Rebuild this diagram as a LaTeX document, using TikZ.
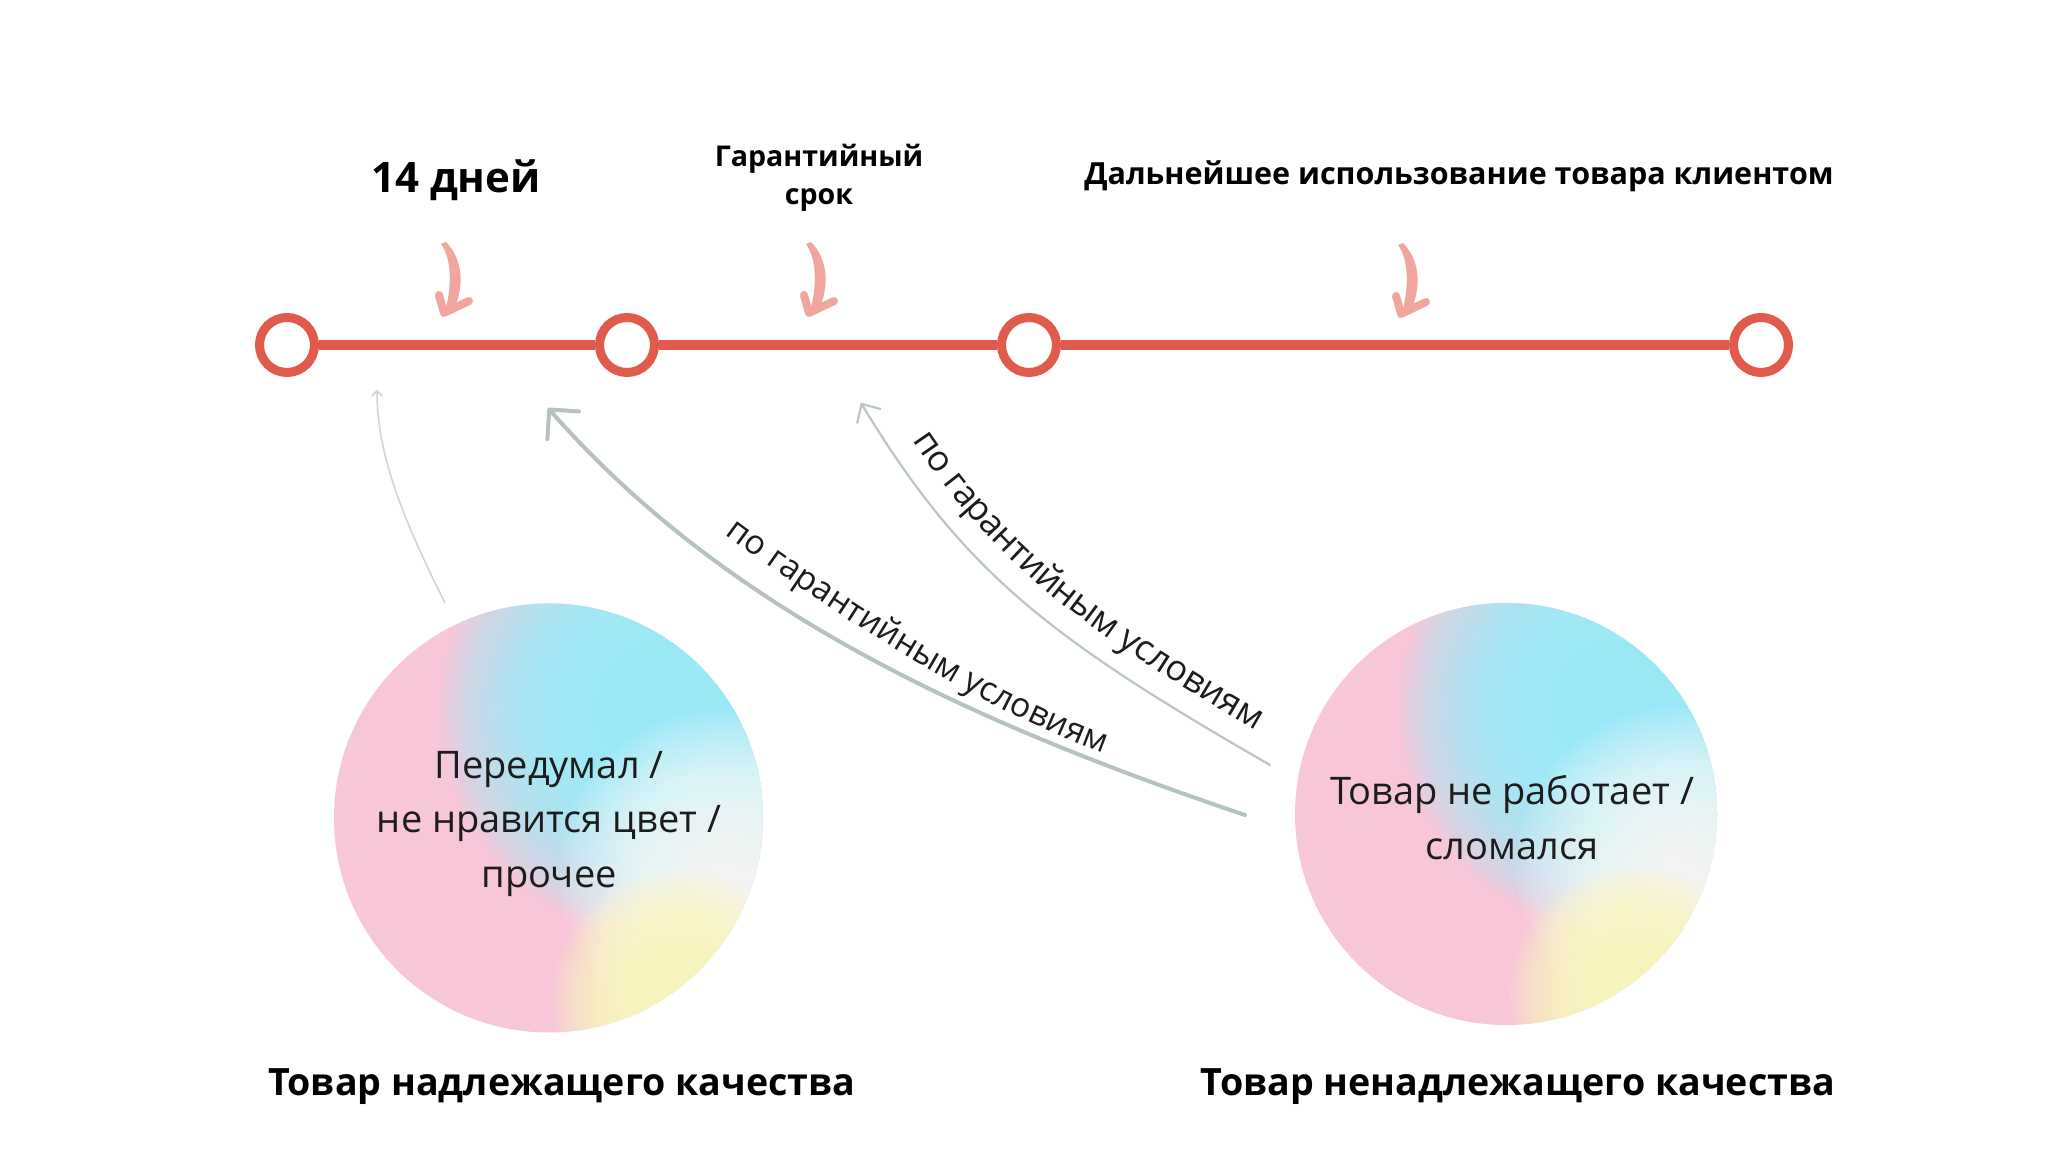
\documentclass[tikz,border=0pt]{standalone}
\usepackage{fontspec}
\setmainfont{Open Sans}
\usetikzlibrary{arrows.meta,decorations.text}
\definecolor{tlred}{HTML}{E05B4B}
\definecolor{pinkarr}{HTML}{F0A69E}
\definecolor{grayarr}{HTML}{B5C2C0}
\definecolor{grayarrmid}{HTML}{BAC6C4}
\definecolor{grayarrlight}{HTML}{CCD5D4}
\definecolor{cpink}{HTML}{F7C6D8}
\definecolor{ccyan}{HTML}{98F0FE}
\definecolor{cwhite}{HTML}{FFFFFF}
\definecolor{cyellow}{HTML}{FFFBBE}
\definecolor{txt}{HTML}{1C1C1C}
% soft blob: many concentric translucent discs
\newcommand\softblob[5]{%
  \foreach \k in {1,...,30}{\fill[#4, fill opacity=#5] (#1,#2) circle ({#3*\k/30});}}
\newcommand\gradcircle[3]{%
  \begin{scope}
    \clip (#1,#2) circle (#3);
    \fill[cpink] (#1,#2) circle (#3);
    \softblob{#1+0.55*#3}{#2+0.50*#3}{1.05*#3}{ccyan}{0.12}
    \softblob{#1+0.80*#3}{#2-0.25*#3}{0.75*#3}{cwhite}{0.08}
    \softblob{#1+0.62*#3}{#2-0.85*#3}{0.6*#3}{cyellow}{0.12}
  \end{scope}}
\newcommand\arrowfntb{\fontsize{33.6}{40}\selectfont}
\newcommand\arrowfntc{\fontsize{35.6}{40}\selectfont}
\tikzset{
  ring/.style={circle, draw=tlred, line width=9pt, fill=white, minimum size=55pt, inner sep=0pt},
  tline/.style={draw=tlred, line width=9.5pt},
  toplbl/.style={font=\bfseries\fontsize{28.6}{34}\selectfont, anchor=base, text=black, inner sep=0pt},
  botlbl/.style={font=\bfseries\fontsize{37.6}{44}\selectfont, anchor=base, text=black, inner sep=0pt},
  circtxt/.style={font=\fontsize{38}{46}\selectfont, anchor=base, text=txt, inner sep=0pt},
  bigcirc/.style={circle, inner sep=0pt},
  thinarr/.style={draw=grayarrlight, line width=1.5pt, -{Straight Barb[length=5pt,width=10pt,round]}},
  thickarr/.style={draw=grayarr, line width=4pt, line cap=round, -{Straight Barb[length=21pt,width=42pt,round]}},
  midarr/.style={draw=grayarrmid, line width=2.2pt, line cap=round, -{Straight Barb[length=14pt,width=27pt,round]}},
  pathtext/.style={decorate, decoration={text along path, text color=txt}},
  pinkarrow/.pic={
    \fill[pinkarr] (-7,73) .. controls (4,58) and (4,30) .. (-3,6) -- (5,6) .. controls (17,30) and (15,58) .. (-2,75) -- cycle;
    \draw[pinkarr, line width=8pt, line cap=round, line join=round] (-9,22) -- (-4,4) -- (21,16);
  }
}
\begin{document}
\begin{tikzpicture}[x=1pt,y=1pt]
\fill[white] (0,0) rectangle (2048,1152);
\useasboundingbox (0,0) rectangle (2048,1152);

% gradient circles
\gradcircle{548.5}{334}{214.5}
\gradcircle{1506}{338}{211}
\node[bigcirc, minimum size=429pt] (goodc) at (548.5,334) {};
\node[bigcirc, minimum size=422pt] (badc) at (1506,338) {};

% timeline
\node[ring] (r1) at (287,807) {};
\node[ring] (r2) at (627,807) {};
\node[ring] (r3) at (1029,807) {};
\node[ring] (r4) at (1761,807) {};
\draw[tline] (r1) -- (r2);
\draw[tline] (r2) -- (r3);
\draw[tline] (r3) -- (r4);

% pink arrows
\pic at (448,835) {pinkarrow};
\pic at (813,835) {pinkarrow};
\pic at (1405,834) {pinkarrow};

% top labels
\node[toplbl, font=\bfseries\fontsize{42}{50}\selectfont] (l14) at (456,959) {14 дней};
\node[toplbl] (lg1) at (819,985) {Гарантийный};
\node[toplbl] (lg2) at (819,947) {срок};
\node[toplbl, font=\bfseries\fontsize{30.5}{36}\selectfont] (ld) at (1459,967) {Дальнейшее использование товара клиентом};

% circle texts
\node[circtxt] (t1) at (549,373) {Передумал /};
\node[circtxt] (t2) at (549,319) {не нравится цвет /};
\node[circtxt] (t3) at (549,265) {прочее};
\node[circtxt] (t4) at (1512,347) {Товар не работает /};
\node[circtxt] (t5) at (1512,292) {сломался};

% bottom labels
\node[botlbl] (bl) at (562,57) {Товар надлежащего качества};
\node[botlbl] (br) at (1518,57) {Товар ненадлежащего качества};

% gray arrows
\coordinate (aS) at (445,549);
\coordinate (aT) at (377,762);
\coordinate (bS) at (1245,337);
\coordinate (bT) at (548,744);
\coordinate (cS) at (1270,387);
\coordinate (cT) at (861,749);
\draw[thinarr] (aS) .. controls (400,639) and (377,700) .. (aT);
\draw[thickarr] (bS) .. controls (969,430) and (725,542) .. (bT);
\draw[midarr] (cS) .. controls (1053,512) and (964,578) .. (cT);

% texts along arrows
\coordinate (btxS) at (725,618);
\coordinate (btxE) at (1110,396);
\path[pathtext, decoration={text={|\arrowfntb|по гарантийным условиям}, text align={left indent=0pt}}]
  (btxS) .. controls (834,537) and (985,440) .. (btxE);
\path[pathtext, decoration={text={|\arrowfntc|по гарантийным условиям}, text align={left indent=60pt}, raise=23pt}]
  (cT) .. controls (964,578) and (1053,512) .. (cS);
\end{tikzpicture}
\end{document}
